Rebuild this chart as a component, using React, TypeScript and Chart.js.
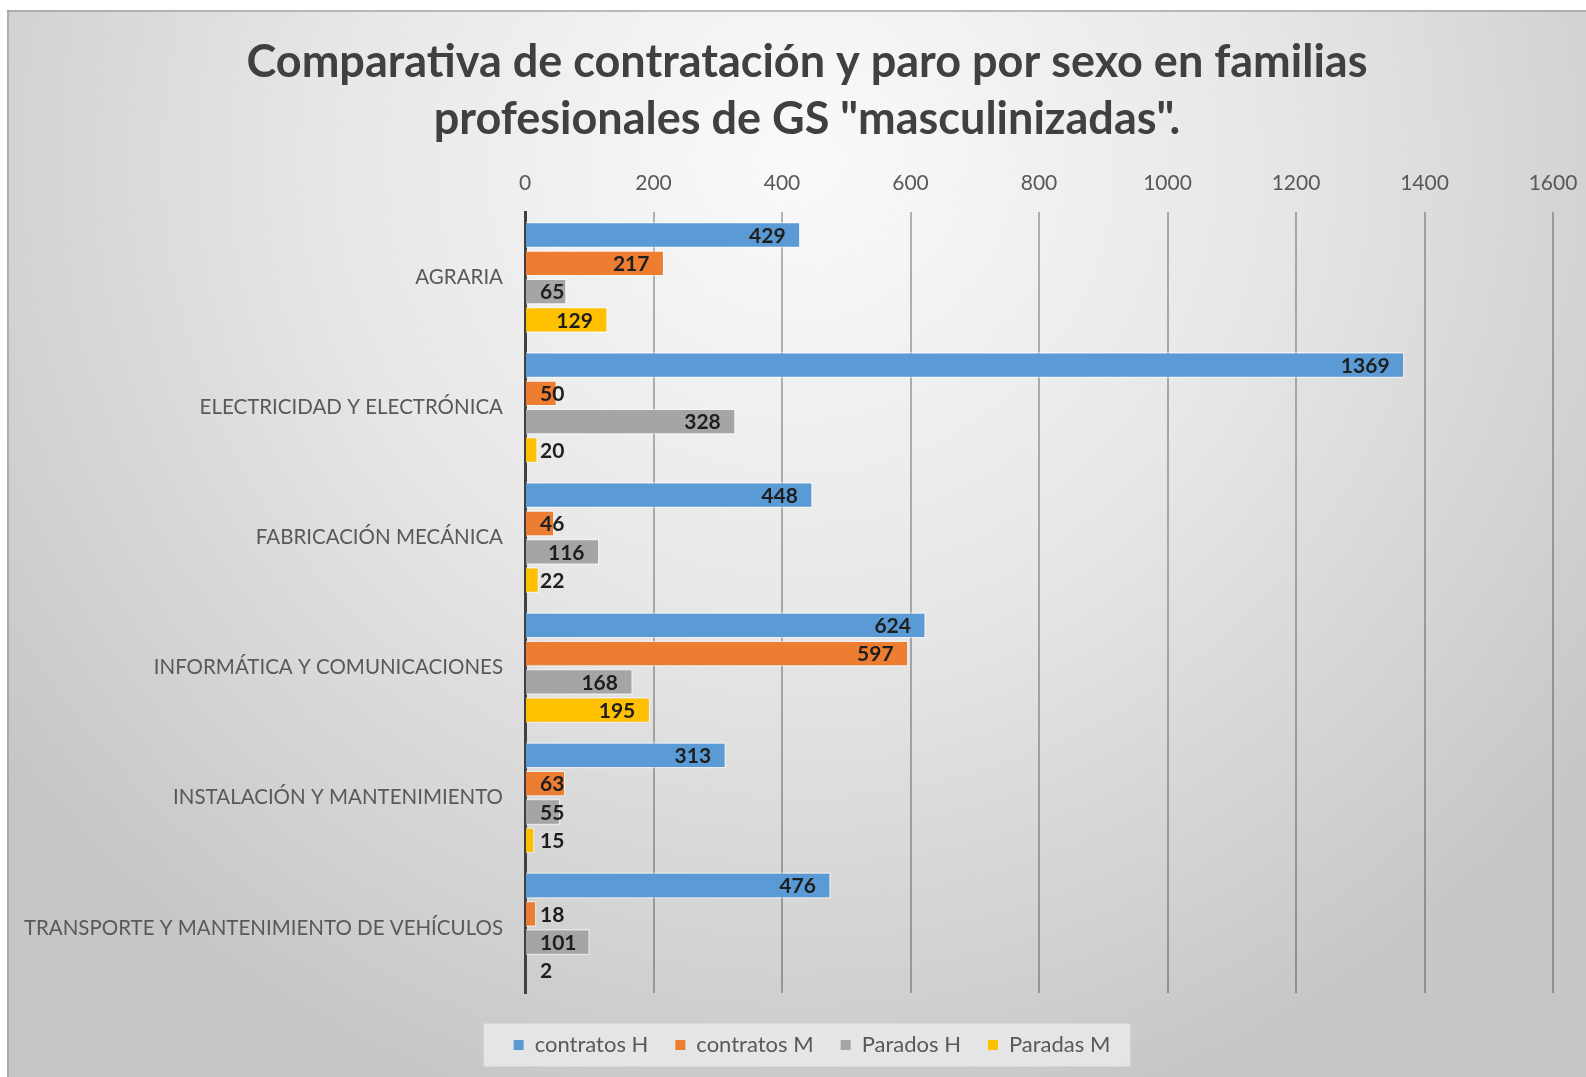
import React, { useEffect, useRef } from 'react';
import { Chart, registerables } from 'chart.js';

Chart.register(...registerables);

const categories = [
  'AGRARIA',
  'ELECTRICIDAD Y ELECTRÓNICA',
  'FABRICACIÓN MECÁNICA',
  'INFORMÁTICA Y COMUNICACIONES',
  'INSTALACIÓN Y MANTENIMIENTO',
  'TRANSPORTE Y MANTENIMIENTO DE VEHÍCULOS',
];
const contratosH = [429, 1369, 448, 624, 313, 476];
const contratosM = [217, 50, 46, 597, 63, 18];
const paradosH = [65, 328, 116, 168, 55, 101];
const paradasM = [129, 20, 22, 195, 15, 2];
const seriesNames = ['contratos H', 'contratos M', 'Parados H', 'Paradas M'];
const seriesColors = ['#5b9bd5', '#ed7d31', '#a5a5a5', '#ffc000'];
const xMin = 0;
const xMax = 1600;
const xStep = 200;
const titleLines = [
  'Comparativa de contratación y paro por sexo en familias',
  'profesionales de GS "masculinizadas".',
];

const W = 1586;
const H = 1077;
const FONT = 'Lato, "Open Sans", "DejaVu Sans", sans-serif';
const TITLE_CENTER_X = 807;
const LEGEND_CENTER_X = 812;

const shiftPlugin = {
  id: 'shiftBoxes',
  afterLayout(chart: any) {
    const t = chart.titleBlock;
    if (t) {
      const d = TITLE_CENTER_X - (t.left + t.right) / 2;
      t.left += d;
      t.right += d;
    }
    const l = chart.legend;
    if (l) {
      const d = LEGEND_CENTER_X - (l.left + l.right) / 2;
      l.left += d;
      l.right += d;
    }
  },
};

const backgroundPlugin = {
  id: 'bgPlugin',
  beforeDraw(chart: any) {
    const ctx = chart.ctx;
    ctx.save();
    ctx.fillStyle = '#ffffff';
    ctx.fillRect(0, 0, W, H);
    const g = ctx.createRadialGradient(800, 160, 0, 800, 160, 1000);
    g.addColorStop(0, '#fafafa');
    g.addColorStop(0.45, '#e8e8e8');
    g.addColorStop(1, '#c6c6c6');
    ctx.fillStyle = g;
    ctx.fillRect(7, 10, W - 7, H - 10);
    ctx.fillStyle = 'rgba(150,150,150,0.6)';
    ctx.fillRect(7, 10, W - 7, 2);
    ctx.fillRect(7, 10, 2, H - 10);
    // legend background box
    const lg = chart.legend;
    if (lg && lg.legendHitBoxes && lg.legendHitBoxes.length) {
      const hb = lg.legendHitBoxes;
      const left = Math.min(...hb.map((b: any) => b.left)) - 30;
      const right = Math.max(...hb.map((b: any) => b.left + b.width)) + 20;
      const cy = hb[0].top + hb[0].height / 2;
      ctx.fillStyle = 'rgba(238,238,238,0.75)';
      ctx.fillRect(left, cy - 21.5, right - left, 43);
    }
    ctx.restore();
  },
};

const dataLabelPlugin = {
  id: 'dataLabels',
  afterDatasetsDraw(chart: any) {
    const ctx = chart.ctx;
    ctx.save();
    ctx.font = `bold 21px ${FONT}`;
    ctx.fillStyle = '#1e1e1e';
    ctx.textBaseline = 'middle';
    ctx.textAlign = 'left';
    chart.data.datasets.forEach((ds: any, di: number) => {
      const meta = chart.getDatasetMeta(di);
      meta.data.forEach((bar: any, i: number) => {
        const txt = String(ds.data[i]);
        const w = ctx.measureText(txt).width;
        const base = bar.base;
        let x = bar.x - 15 - w;
        if (x < base + 14) x = base + 14;
        ctx.fillText(txt, x, bar.y + 1);
      });
    });
    ctx.restore();
  },
};

const noSidePadding = (s: any, h: number) => {
  s.height = h;
  s.paddingLeft = 0;
  s.paddingRight = 0;
};

export default function App() {
  const ref = useRef<HTMLCanvasElement | null>(null);
  useEffect(() => {
    document.body.style.margin = '0';
    const canvas = ref.current;
    if (!canvas) return;
    const datasetsValues = [contratosH, contratosM, paradosH, paradasM];
    const chart = new Chart(canvas, {
      type: 'bar',
      data: {
        labels: categories,
        datasets: datasetsValues.map((vals, k) => ({
          label: seriesNames[k],
          data: vals,
          backgroundColor: seriesColors[k],
          borderColor: 'rgba(255,255,255,0.45)',
          borderWidth: 1.5,
          borderSkipped: 'start',
          barPercentage: 0.93,
          categoryPercentage: 0.87,
        })),
      },
      options: {
        indexAxis: 'y',
        responsive: false,
        animation: false,
        devicePixelRatio: 1,
        layout: { padding: { top: 10, right: 33, bottom: 11, left: 0 } },
        scales: {
          x: {
            position: 'top',
            min: xMin,
            max: xMax,
            ticks: {
              stepSize: xStep,
              color: '#595959',
              font: { family: FONT, size: 21 },
              padding: 17,
              callback: (v: any) => String(v),
            },
            grid: {
              color: 'rgba(0,0,0,0.28)',
              lineWidth: 2,
              drawTicks: false,
            },
            border: { display: false },
            afterFit: (s: any) => noSidePadding(s, 57),
          },
          x2: {
            type: 'linear',
            position: 'bottom',
            display: true,
            grid: { display: false, drawTicks: false },
            ticks: { display: false },
            border: { display: false },
            afterFit: (s: any) => noSidePadding(s, 14),
          },
          y: {
            ticks: {
              color: '#595959',
              font: { family: FONT, size: 20.5 },
              padding: 22,
            },
            grid: { display: false, drawTicks: false },
            border: { display: true, color: '#404040', width: 3 },
            afterFit: (s: any) => {
              s.width = 525;
              s.paddingTop = 0;
              s.paddingBottom = 0;
            },
          },
        },
        plugins: {
          title: {
            display: true,
            text: titleLines,
            color: '#404040',
            font: { family: FONT, size: 45, weight: 'bold', lineHeight: 1.26 },
            padding: { top: 24, bottom: 8 },
          },
          legend: {
            position: 'bottom',
            labels: {
              boxWidth: 10,
              boxHeight: 10,
              padding: 27,
              color: '#595959',
              font: { family: FONT, size: 22 },
              generateLabels: (c: any) => {
                const items = Chart.defaults.plugins.legend.labels.generateLabels(c);
                return items.map((it: any) => ({ ...it, lineWidth: 0, strokeStyle: 'rgba(0,0,0,0)' }));
              },
            },
          },
          tooltip: { enabled: false },
        },
      },
      plugins: [shiftPlugin, backgroundPlugin, dataLabelPlugin],
    } as any);
    return () => chart.destroy();
  }, []);
  return <canvas ref={ref} width={W} height={H} style={{ display: 'block', width: W, height: H }} />;
}
